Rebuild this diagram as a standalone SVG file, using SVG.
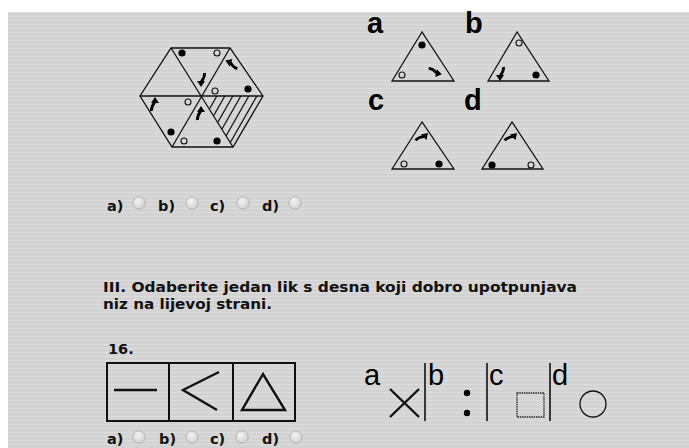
<svg xmlns="http://www.w3.org/2000/svg" width="689" height="448" viewBox="0 0 689 448">
<defs>
<style>
.t{font-family:"DejaVu Sans",Verdana,sans-serif;font-weight:bold;font-size:14.5px;fill:#111}
.lb{font-family:"Liberation Sans",Arial,sans-serif;font-weight:bold;font-size:29px;fill:#000}
.lr{font-family:"Liberation Sans",Arial,sans-serif;font-size:29px;fill:#000}
.ln{stroke:#111;stroke-width:1.3;fill:none}
.th{stroke:#111;stroke-width:2.4;fill:none}
.fd{fill:#000}
.od{fill:none;stroke:#111;stroke-width:1.1}
.rb{fill:url(#rg);stroke:#b4b4b4;stroke-width:1}
</style>
<pattern id="bg" width="4" height="4" patternUnits="userSpaceOnUse">
<rect width="4" height="4" fill="#d3d3d3"/>
<rect width="4" height="1" fill="#dcdcdc"/>
</pattern>
<radialGradient id="rg" cx="0.4" cy="0.35" r="0.7">
<stop offset="0" stop-color="#f4f4f4"/>
<stop offset="1" stop-color="#cfcfcf"/>
</radialGradient>
<g id="arr">
<path d="M-3.5,7 C-4,2.5 -1.5,0 0,-2" stroke="#000" stroke-width="2.8" fill="none"/>
<path d="M-4,-1 L0,-7 L4,-1 Z" fill="#000"/>
</g>
<clipPath id="hc"><path d="M202,96 L263,96 L233,147 Z"/></clipPath>
<g id="radio"><circle r="6.2" class="rb"/></g>
</defs>
<rect x="0" y="0" width="689" height="448" fill="#fff"/>
<rect x="8" y="12" width="681" height="436" fill="url(#bg)"/>

<g id="hexagon">
<g clip-path="url(#hc)" stroke="#111" stroke-width="1.2">
<line x1="186" y1="150" x2="218" y2="94"/>
<line x1="194" y1="150" x2="226" y2="94"/>
<line x1="202" y1="150" x2="234" y2="94"/>
<line x1="210" y1="150" x2="242" y2="94"/>
<line x1="218" y1="150" x2="250" y2="94"/>
<line x1="226" y1="150" x2="258" y2="94"/>
<line x1="234" y1="150" x2="266" y2="94"/>
</g>
<path class="ln" d="M171,48 L230,48 L263,96 L233,147 L172,147 L140,96 Z"/>
<path class="ln" d="M140,96 L263,96 M171,48 L233,147 M230,48 L172,147"/>
<circle class="fd" cx="182" cy="53" r="3.6"/>
<circle class="od" cx="217" cy="53" r="3"/>
<circle class="od" cx="215" cy="91" r="3"/>
<circle class="fd" cx="248" cy="89" r="3.6"/>
<circle class="od" cx="188" cy="102" r="3"/>
<circle class="fd" cx="171" cy="132" r="3.6"/>
<circle class="od" cx="184" cy="141" r="3"/>
<circle class="fd" cx="217" cy="141" r="3.6"/>
<use href="#arr" transform="translate(232,63) rotate(-70)"/>
<use href="#arr" transform="translate(201,80) rotate(180)"/>
<use href="#arr" transform="translate(155,104)"/>
<use href="#arr" transform="translate(201,113)"/>
</g>

<g id="option-a">
<text class="lb" x="367" y="33">a</text>
<path class="ln" d="M422,32 L392,81 L454,81 Z"/>
<circle class="fd" cx="422" cy="45" r="3.6"/>
<circle class="od" cx="402" cy="75" r="3"/>
<use href="#arr" transform="translate(435,73) rotate(100)"/>
</g>
<g id="option-b">
<text class="lb" x="465" y="33">b</text>
<path class="ln" d="M517,32 L488,81 L549,81 Z"/>
<circle class="od" cx="519" cy="43" r="3"/>
<circle class="fd" cx="536" cy="75" r="3.6"/>
<use href="#arr" transform="translate(500,74) rotate(180)"/>
</g>
<g id="option-c">
<text class="lb" x="368" y="110">c</text>
<path class="ln" d="M422,122 L392,169 L454,169 Z"/>
<circle class="od" cx="404" cy="164" r="3"/>
<circle class="fd" cx="439" cy="164" r="3.6"/>
<use href="#arr" transform="translate(423,138) rotate(45)"/>
</g>
<g id="option-d">
<text class="lb" x="464" y="110">d</text>
<path class="ln" d="M512,122 L482,169 L543,169 Z"/>
<circle class="fd" cx="492" cy="165" r="3.6"/>
<circle class="od" cx="531" cy="165" r="3"/>
<use href="#arr" transform="translate(512,138) rotate(45)"/>
</g>

<g id="answers-1">
<text class="t" x="107" y="211">a)</text><use href="#radio" x="139" y="203"/>
<text class="t" x="158" y="211">b)</text><use href="#radio" x="192" y="203"/>
<text class="t" x="210" y="211">c)</text><use href="#radio" x="243" y="203"/>
<text class="t" x="262" y="211">d)</text><use href="#radio" x="295" y="203"/>
</g>

<g id="instruction">
<text class="t" x="103" y="292" textLength="474" lengthAdjust="spacingAndGlyphs">III. Odaberite jedan lik s desna koji dobro upotpunjava</text>
<text class="t" x="103" y="309" textLength="169" lengthAdjust="spacingAndGlyphs">niz na lijevoj strani.</text>
<text class="t" x="108" y="354">16.</text>
</g>

<g id="sequence">
<rect x="107" y="363" width="188" height="58" fill="none" stroke="#111" stroke-width="2"/>
<line x1="169" y1="363" x2="169" y2="421" stroke="#111" stroke-width="2"/>
<line x1="233" y1="363" x2="233" y2="421" stroke="#111" stroke-width="2"/>
<line class="th" x1="114" y1="390" x2="157" y2="390"/>
<path class="th" d="M219,372 L183,390 L217,410"/>
<path class="th" d="M263,374 L242,410 L285,410 Z"/>
</g>

<g id="choices">
<text class="lr" x="364" y="385">a</text>
<path class="th" stroke-width="2" d="M390,389 L419,417 M419,389 L390,417"/>
<line x1="425" y1="363" x2="425" y2="421" stroke="#111" stroke-width="1.6"/>
<text class="lr" x="428" y="385">b</text>
<circle class="fd" cx="467" cy="393" r="3.2"/>
<circle class="fd" cx="467" cy="413" r="3.2"/>
<line x1="487" y1="363" x2="487" y2="421" stroke="#111" stroke-width="1.6"/>
<text class="lr" x="489" y="385">c</text>
<rect x="517" y="393" width="27" height="24" fill="none" stroke="#222" stroke-width="1.3" stroke-dasharray="1.5 0.8"/>
<line x1="550" y1="363" x2="550" y2="421" stroke="#111" stroke-width="1.6"/>
<text class="lr" x="552" y="385">d</text>
<circle cx="593" cy="404" r="13" fill="none" stroke="#111" stroke-width="1.3"/>
</g>

<g id="answers-2">
<text class="t" x="107" y="444">a)</text><use href="#radio" x="139" y="437"/>
<text class="t" x="159" y="444">b)</text><use href="#radio" x="192" y="437"/>
<text class="t" x="210" y="444">c)</text><use href="#radio" x="242" y="437"/>
<text class="t" x="262" y="444">d)</text><use href="#radio" x="296" y="437"/>
</g>
</svg>
